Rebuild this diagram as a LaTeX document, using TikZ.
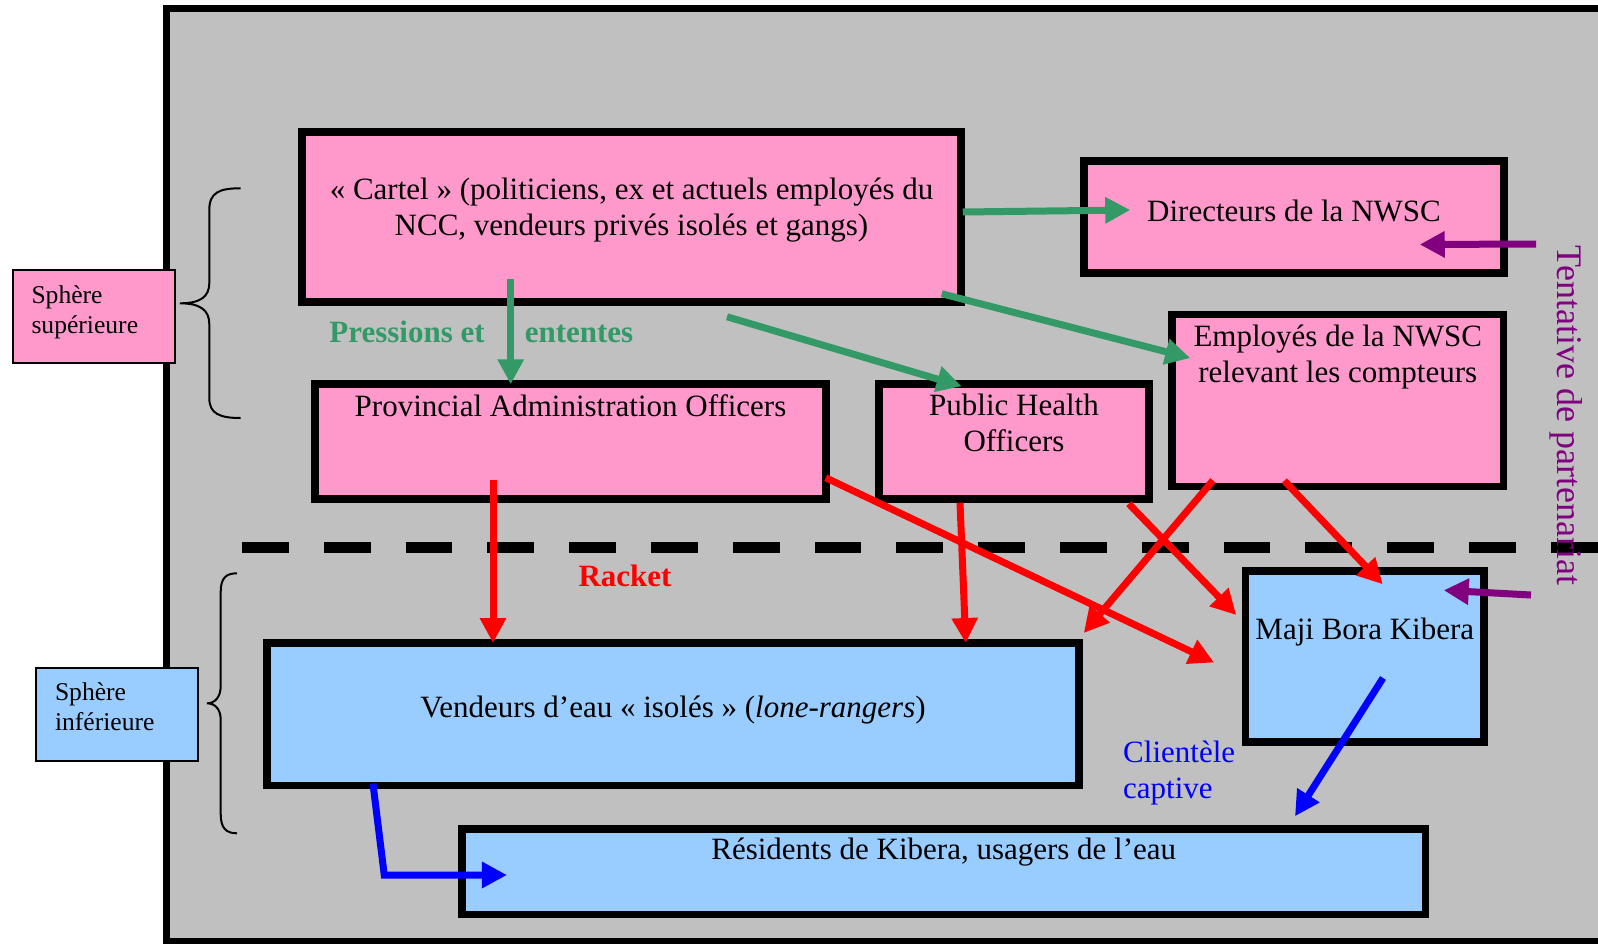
\documentclass[tikz,border=0pt]{standalone}
\usepackage{fontspec}
\setmainfont{Liberation Serif}
\usepackage{tikz}
\usetikzlibrary{arrows.meta,calc}

\definecolor{fond}{RGB}{192,192,192}
\definecolor{rosefonce}{RGB}{255,153,204}
\definecolor{ciel}{RGB}{153,204,255}
\definecolor{vert}{RGB}{51,153,102}
\definecolor{pourpre}{RGB}{128,0,128}

\begin{document}
\begin{tikzpicture}[x=1pt, y=-1pt,
  boite/.style={draw=black, line width=7.5pt, inner sep=0pt, align=center,
                text height=0pt, font=\fontsize{31}{36}\selectfont},
  boiterose/.style={boite, fill=rosefonce},
  boitebleue/.style={boite, fill=ciel},
  sphere/.style={draw=black, line width=2pt, inner xsep=19pt, inner ysep=0pt,
                 text width=124pt, align=left, text height=0pt, minimum height=93pt,
                 font=\fontsize{25.6}{30}\selectfont},
  etiquette/.style={inner sep=0pt, anchor=base, font=\bfseries\fontsize{31}{36}\selectfont},
  fleche/.style={line width=7pt, -{Triangle[length=25pt, width=25pt]}},
  accolade/.style={line width=2pt}]
  \useasboundingbox (0,0) rectangle (1598,943);
  \draw[fill=fond, line width=7pt] (166.5,8.8) rectangle (1620,941.5);
  % accolades
  \draw[accolade] (240.7,188.3) .. controls (220,188.3) and (209.3,192) .. (209.3,210) -- (209.3,283)
    .. controls (209.3,297) and (200,303.3) .. (180,303.3) .. controls (200,303.3) and (209.3,310) .. (209.3,324)
    -- (209.3,398) .. controls (209.3,414) and (220,418) .. (240.7,418);
  \draw[accolade] (237,573.3) .. controls (226,573.3) and (220.7,578) .. (220.7,592) -- (220.7,686)
    .. controls (220.7,697) and (215,703.3) .. (207,703.3) .. controls (215,703.3) and (220.7,709) .. (220.7,720)
    -- (220.7,814) .. controls (220.7,828) and (226,833.3) .. (237,833.3);
  \draw[line width=11.5pt, dash pattern=on 46.7pt off 35.1pt] (242,547.5) -- (1600,547.5);
  \node[sphere, fill=rosefonce, text depth=25.4pt] (sup) at (93.5,316) {Sphère\\supérieure};
  \node[sphere, fill=ciel, text depth=26.6pt] (inf) at (117,714) {Sphère\\inférieure};
  \node[boiterose, minimum width=659pt, minimum height=170pt, text height=36pt, text depth=0pt] (cartel) at (631.5,217)
    {«~Cartel~» (politiciens, ex et actuels employés du\\NCC, vendeurs privés isolés et gangs)};
  \node[boiterose, minimum width=420pt, minimum height=112pt, text height=8pt, text depth=0pt] (directeurs) at (1294,217) {Directeurs de la NWSC};
  \node[boiterose, minimum width=331.5pt, minimum height=172pt, text depth=37pt] (employes) at (1337.75,400.5)
    {Employés de la NWSC\\relevant les compteurs};
  \node[boiterose, minimum width=511pt, minimum height=115pt, text depth=49.6pt] (provincial) at (570.5,441.5) {Provincial Administration Officers};
  \node[boiterose, minimum width=270pt, minimum height=115pt, text height=19pt, text depth=0pt] (sante) at (1014,441.5) {Public Health\\Officers};
  \node[boitebleue, minimum width=238.5pt, minimum height=171pt, text depth=35pt] (maji) at (1364.75,656.5) {Maji Bora Kibera};
  \node[boitebleue, minimum width=812pt, minimum height=142.5pt, text height=6pt, text depth=0pt] (vendeurs) at (673,714)
    {Vendeurs d’eau «~isolés~» (\textit{lone-rangers})};
  \node[boitebleue, minimum width=963.5pt, minimum height=85.5pt, text depth=25.5pt] (residents) at (943.75,871.75)
    {Résidents de Kibera, usagers de l’eau};
  \node[etiquette, text=vert] (pressions) at (407,342.7) {Pressions et};
  \node[etiquette, text=vert] (ententes) at (579,342.7) {ententes};
  \node[etiquette, text=red] (racket) at (625,586) {Racket};
  \node[inner sep=0pt, anchor=north west, align=left, text height=58pt, text=blue,
        font=\fontsize{31}{36}\selectfont] (clientele) at (1123,740.7) {Clientèle\\captive};
  \node[inner sep=0pt, anchor=base, rotate=-90, text=pourpre,
        font=\fontsize{36}{42}\selectfont] (partenariat) at (1557,415.5) {Tentative de partenariat};
  % fleches
  \draw[fleche, vert] ($(cartel.east)+(-2,-5)$) -- ($(directeurs.west)+(50,-7)$);
  \draw[fleche, vert] ($(cartel.south)+(-120.8,-27)$) -- ($(provincial.north)+(-59.8,4)$);
  \draw[fleche, vert] ($(cartel.south)+(95.5,11)$) -- ($(sante.north)+(-52.3,6)$);
  \draw[fleche, vert] ($(cartel.south east)+(-23,-12)$) -- ($(employes.west)+(22,-42.5)$);
  \draw[fleche, red] ($(provincial.south)+(-77.5,-23)$) -- ($(vendeurs.north)+(-180,4)$);
  \draw[fleche, red] ($(provincial.south east)+(-4,-25)$) -- ($(maji.west)+(-27.7,6)$);
  \draw[fleche, red] ($(sante.south)+(-54,0)$) -- ($(vendeurs.north east)+(-117,4)$);
  \draw[fleche, red] ($(sante.south east)+(-24,1)$) -- ($(maji.west)+(-5.5,-41.5)$);
  \draw[fleche, red] ($(employes.south west)+(44.7,-9.8)$) -- ($(vendeurs.north east)+(1,-6)$);
  \draw[fleche, red] ($(employes.south west)+(116,-9.5)$) -- ($(maji.north)+(18,17)$);
  \draw[fleche, pourpre] ($(partenariat.base)+(-21,-171.5)$) -- ($(directeurs.east)+(-88,27.5)$);
  \draw[fleche, pourpre] ($(partenariat.base)+(-26,179.5)$) -- ($(maji.north east)+(-44,23)$);
  \draw[fleche, blue] ($(maji.center)+(18.25,21.5)$) -- ($(residents.north)+(351.25,-9)$);
  \draw[fleche, blue] ($(vendeurs.south west)+(109.7,-5.5)$) -- ($(residents.west)+(-74,3.25)$) -- ($(residents.west)+(48.7,3.25)$);
\end{tikzpicture}
\end{document}
